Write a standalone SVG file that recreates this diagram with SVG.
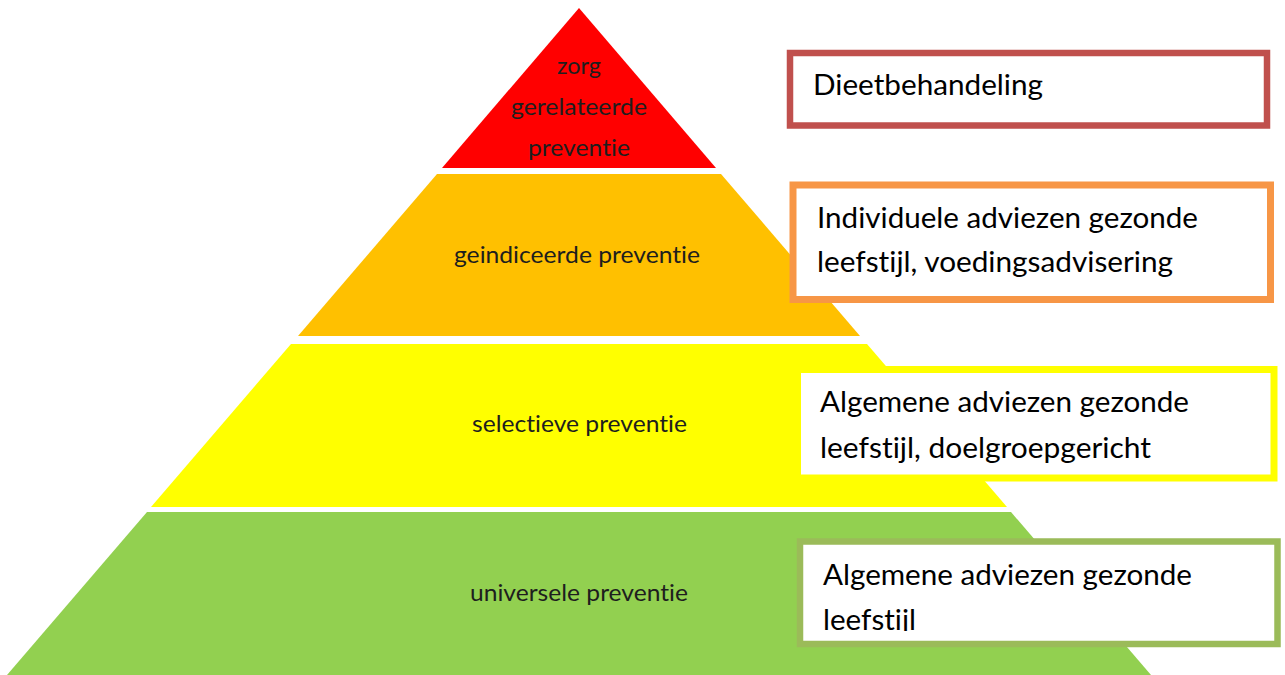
<svg xmlns="http://www.w3.org/2000/svg" width="1285" height="675" viewBox="0 0 1285 675">
  <style>
    text { font-variant-ligatures: none; font-feature-settings: "liga" 0, "clig" 0; }
    .lvl { font-family: Lato, "Liberation Sans", sans-serif; font-size: 24px; fill: #1e1e1e; }
    .mid { text-anchor: middle; }
    .box { fill: #ffffff; }
    .bt { font-family: Lato, "Liberation Sans", sans-serif; font-size: 28px; fill: #000000; }
  </style>
  <defs>
    <clipPath id="clipGreen">
      <rect x="803" y="545" width="471" height="86"/>
    </clipPath>
  </defs>
  <rect x="0" y="0" width="1285" height="675" fill="#ffffff"/>

  <g id="level-zorg">
    <polygon points="579,8 716,168 442,168" fill="#FF0000"/>
    <text class="lvl mid" x="579" y="74" textLength="44" lengthAdjust="spacingAndGlyphs">zorg</text>
    <text class="lvl mid" x="579" y="115" textLength="136" lengthAdjust="spacingAndGlyphs">gerelateerde</text>
    <text class="lvl mid" x="579" y="156" textLength="102" lengthAdjust="spacingAndGlyphs">preventie</text>
  </g>

  <g id="level-geindiceerd">
    <polygon points="437,174 721,174 860,336 298,336" fill="#FFC000"/>
    <text class="lvl" x="454" y="263" textLength="246" lengthAdjust="spacingAndGlyphs">geindiceerde preventie</text>
  </g>

  <g id="level-selectief">
    <polygon points="291,344 867,344 1007,507 151,507" fill="#FFFF00"/>
    <text class="lvl" x="472" y="432" textLength="215" lengthAdjust="spacingAndGlyphs">selectieve preventie</text>
  </g>

  <g id="level-universeel">
    <polygon points="147,512 1011,512 1151,675 7,675" fill="#92D050"/>
    <text class="lvl" x="470" y="601" textLength="218" lengthAdjust="spacingAndGlyphs">universele preventie</text>
  </g>

  <g id="box-dieet">
    <rect class="box" x="790" y="53" width="477" height="72.5" stroke="#C0504D" stroke-width="6.5"/>
    <text class="bt" x="813" y="95" textLength="230" lengthAdjust="spacingAndGlyphs">Dieetbehandeling</text>
  </g>

  <g id="box-individueel">
    <rect class="box" x="793" y="185" width="477.5" height="114.5" stroke="#F79646" stroke-width="7"/>
    <text class="bt" x="817" y="228" textLength="381" lengthAdjust="spacingAndGlyphs">Individuele adviezen gezonde</text>
    <text class="bt" x="817" y="272" textLength="356" lengthAdjust="spacingAndGlyphs">leefstijl, voedingsadvisering</text>
  </g>

  <g id="box-doelgroep">
    <rect class="box" x="797.5" y="369.5" width="476.5" height="108.5" stroke="#FFFF00" stroke-width="7"/>
    <text class="bt" x="820" y="412" textLength="369" lengthAdjust="spacingAndGlyphs">Algemene adviezen gezonde</text>
    <text class="bt" x="820" y="458" textLength="331" lengthAdjust="spacingAndGlyphs">leefstijl, doelgroepgericht</text>
  </g>

  <g id="box-algemeen">
    <rect class="box" x="800" y="541.5" width="477.5" height="102.5" stroke="#9BBB59" stroke-width="6.5"/>
    <g clip-path="url(#clipGreen)">
      <text class="bt" x="823" y="585" textLength="369" lengthAdjust="spacingAndGlyphs">Algemene adviezen gezonde</text>
      <text class="bt" x="823" y="630" textLength="93" lengthAdjust="spacingAndGlyphs">leefstijl</text>
    </g>
  </g>

  <g id="connectors"></g>
</svg>
